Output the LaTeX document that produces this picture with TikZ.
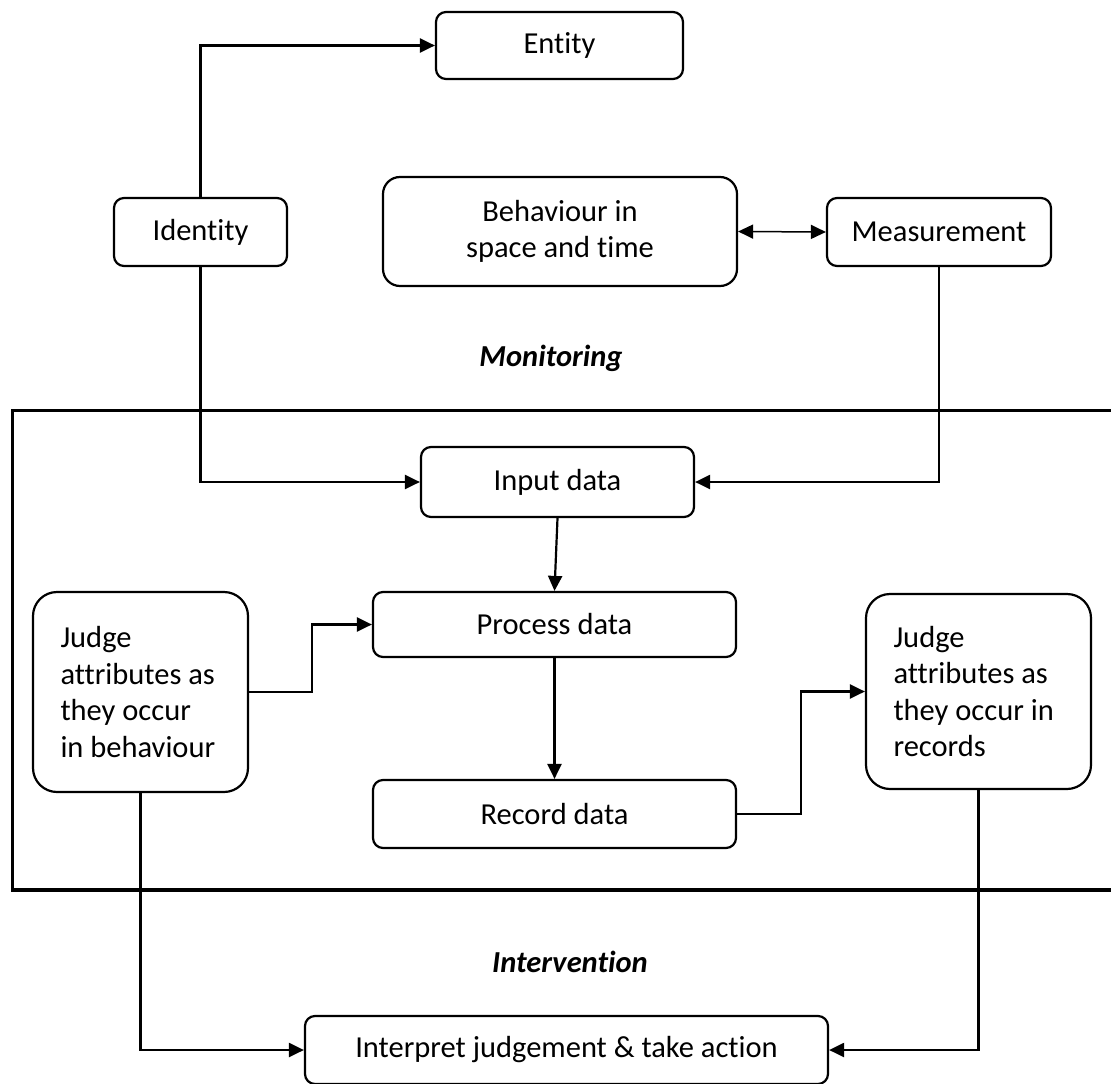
\documentclass[tikz,border=0pt]{standalone}
\usepackage{fontspec}
\setmainfont{Carlito}[Ligatures={NoCommon,NoContextual}]
\usetikzlibrary{arrows.meta}
\begin{document}
\begin{tikzpicture}[x=1pt,y=-1pt,
  box/.style={draw, line width=2.2pt, rounded corners=10pt, align=center, inner sep=0pt,
    font=\fontsize{30.5}{36}\selectfont},
  judge/.style={draw, line width=2.2pt, rounded corners=24pt, align=flush left, inner ysep=0pt,
    font=\fontsize{30.5}{36.5}\selectfont},
  lbl/.style={font=\fontsize{30.5}{36}\selectfont\bfseries\itshape},
  conn/.style={line width=2.2pt},
  arr/.style={conn, -{Triangle[length=15pt,width=14pt]}},
  darr/.style={line width=1.5pt, {Triangle[length=15pt,width=14pt]}-{Triangle[length=15pt,width=14pt]}}
]
\useasboundingbox (0,0) rectangle (1111,1084);
\fill[white] (0,0) rectangle (1111,1084);

% frame
\draw[line width=3.6pt] (1125,410.5) -- (12.5,410.5) -- (12.5,890) -- (1125,890);

\node[box, minimum width=247pt, minimum height=67pt] (entity) at (559.5,45.5) {Entity};
\node[box, minimum width=173pt, minimum height=68pt] (identity) at (200.5,232) {Identity};
\node[box, rounded corners=17pt, minimum width=354pt, minimum height=109pt] (behav) at (560,231.5) {Behaviour in\\space and time};
\node[box, minimum width=224pt, minimum height=68pt] (meas) at (939,232) {Measurement};
\node[lbl] (monit) at (551,358) {Monitoring};

\node[box, minimum width=273pt, minimum height=70pt] (input) at (557.5,482) {Input data};
\node[box, minimum width=363pt, minimum height=65pt] (process) at (554.5,624.5) {Process data};
\node[box, minimum width=363pt, minimum height=68pt] (record) at (554.5,814) {Record data};

\node[judge, text width=160pt, inner xsep=27.5pt, minimum height=200pt] (judgeL) at (140.5,692)
  {Judge\\attributes as\\they occur\\in behaviour};
\node[judge, text width=170pt, inner xsep=27.5pt, minimum height=195pt] (judgeR) at (978.5,691.5)
  {Judge\\attributes as\\they occur in\\records};

\node[lbl] (interv) at (570,962) {Intervention};
\node[box, minimum width=523pt, minimum height=68pt] (interp) at (566.5,1050) {Interpret judgement \& take action};

% connectors
\draw[arr] (identity.north) |- (entity.west);
\draw[darr] (behav.east) -- (meas.west);
\draw[arr] (identity.south) |- (input.west);
\draw[arr] (meas.south) |- (input.east);
\draw[arr] (input.south) -- (process.north);
\draw[arr] (process.south) -- (record.north);
\draw[arr] (judgeL.east) -- ++(63,0) |- (process.west);
\draw[arr] (record.east) -- ++(64,0) |- (judgeR.west);
\draw[arr] (judgeL.south) |- (interp.west);
\draw[arr] (judgeR.south) |- (interp.east);
\end{tikzpicture}
\end{document}
